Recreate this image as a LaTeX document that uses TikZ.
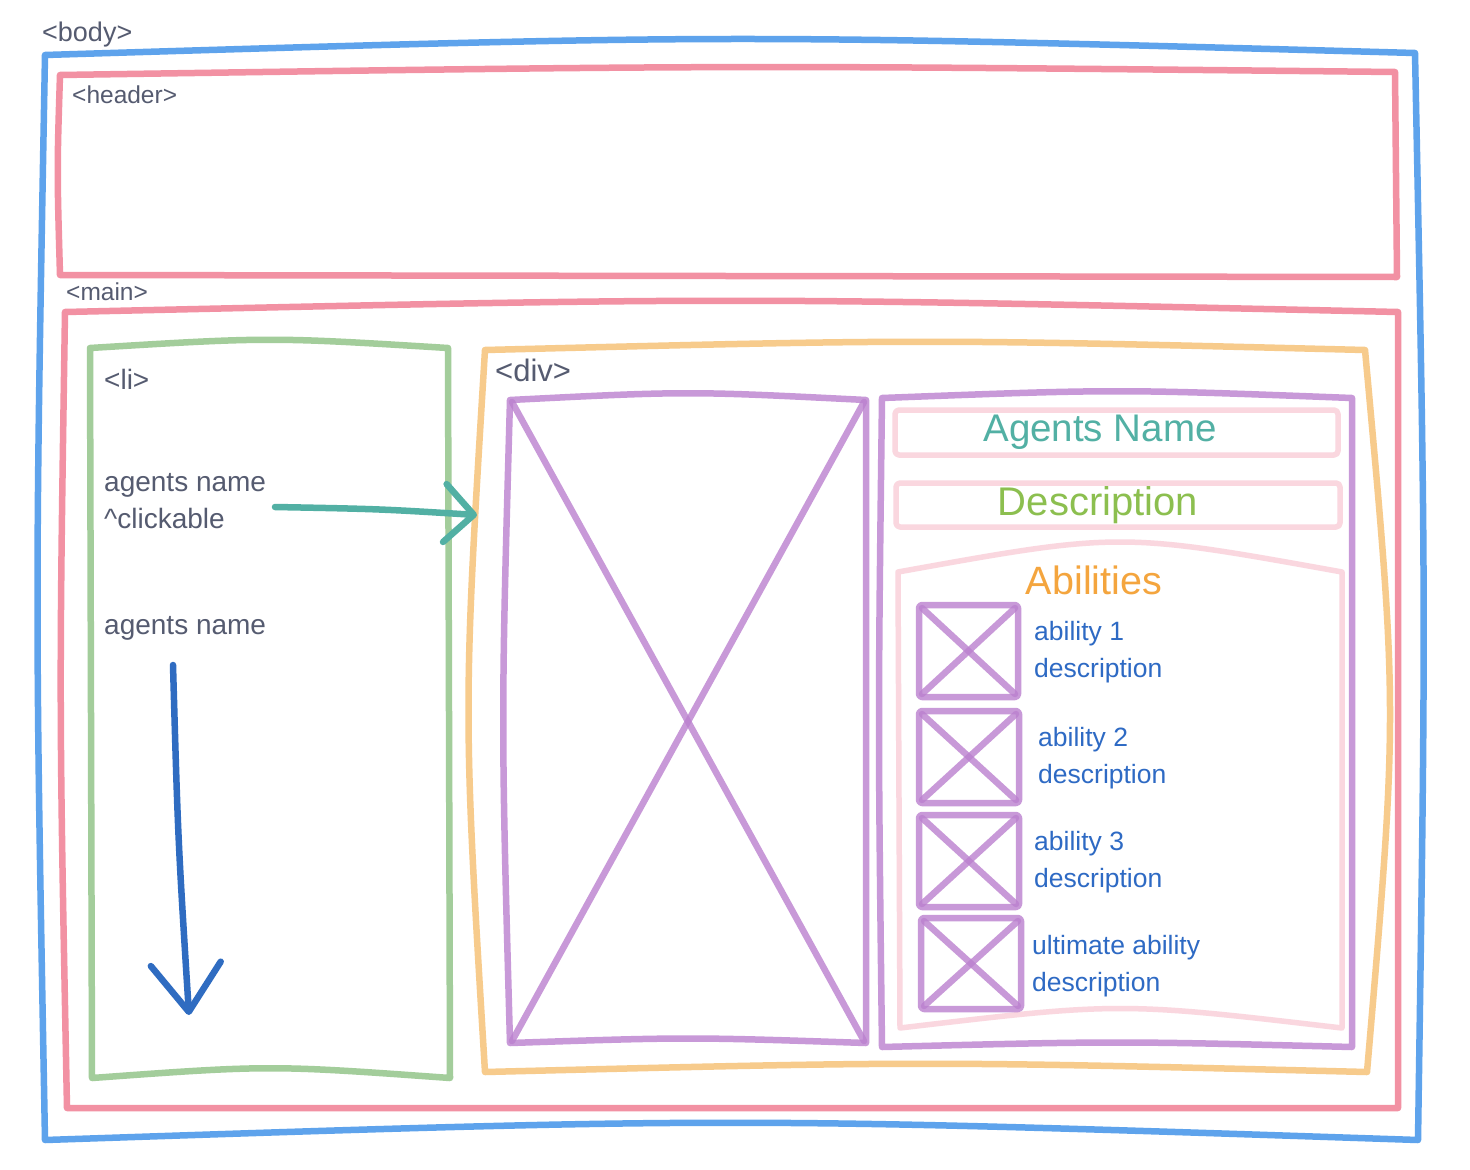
\documentclass[tikz,border=0pt]{standalone}
\usepackage{fontspec}
\setmainfont{Liberation Sans}
\usetikzlibrary{arrows.meta}
\definecolor{cbody}{HTML}{5EA3EC}
\definecolor{cpink}{HTML}{F291A3}
\definecolor{cgreen}{HTML}{A3CD9B}
\definecolor{corange}{HTML}{F7CB8C}
\definecolor{cpurple}{HTML}{BB80CF}
\definecolor{clpink}{HTML}{FAD7DF}
\definecolor{cteal}{HTML}{52B0A4}
\definecolor{cgrey}{HTML}{555B70}
\definecolor{cbluetext}{HTML}{2E6AC4}
\definecolor{cdesc}{HTML}{8CBF4F}
\definecolor{cabil}{HTML}{F4A53E}
\definecolor{cbluearrow}{HTML}{2F6CC1}
\newcommand{\fs}[1]{\fontsize{#1}{#1}\selectfont}
\begin{document}
\begin{tikzpicture}[x=1pt,y=-1pt,
  sk/.style={line width=6.5pt,line join=round,line cap=round},
  bodyline/.style={sk,draw=cbody},
  pinkline/.style={sk,draw=cpink},
  greenline/.style={sk,draw=cgreen},
  orangeline/.style={sk,draw=corange},
  purpleline/.style={sk,draw=cpurple,draw opacity=0.8},
  lpinkline/.style={sk,line width=5.5pt,draw=clpink,rounded corners=4pt},
  lbl/.style={inner sep=0pt,anchor=base west,text=cgrey},
  abil/.style={inner sep=0pt,anchor=base west,text=cbluetext,font=\fs{26.5}},
  head/.style={inner sep=0pt,anchor=base},
]
\useasboundingbox (0,0) rectangle (1470,1170);
\fill[white] (0,0) rectangle (1470,1170);

% body
\draw[bodyline] (45,55) .. controls (730,34) .. (1415,53) .. controls (1426,600) .. (1418,1140)
  .. controls (730,1117) .. (45,1140) .. controls (35,600) .. cycle;
% header
\draw[pinkline] (60,75) .. controls (730,65) .. (1395,72) -- (1397,277) -- (60,275) .. controls (57,170) .. cycle;
% main
\draw[pinkline] (65,312) .. controls (730,297) .. (1398,312) -- (1398,1108) -- (67,1108) .. controls (59,700) .. cycle;
% li
\draw[greenline] (90,348) .. controls (270,337) .. (448,348) -- (450,1078) .. controls (270,1065) .. (92,1078) -- cycle;
% div
\draw[orangeline] (485,350) .. controls (925,339) .. (1365,350) .. controls (1398,710) .. (1367,1072)
  .. controls (925,1061) .. (485,1072) .. controls (463,710) .. cycle;
% big image
\draw[purpleline] (510,400) .. controls (688,391) .. (866,400) -- (866,1043) .. controls (688,1037) .. (510,1043) .. controls (501,720) .. cycle;
\draw[purpleline] (512,402) -- (864,1041);
\draw[purpleline] (864,402) -- (512,1041);
% right panel
\draw[purpleline] (882,398) .. controls (1117,389) .. (1352,398) -- (1352,1047) .. controls (1117,1041) .. (882,1047) .. controls (878,720) .. cycle;
% name / description boxes
\draw[lpinkline] (895,410) rectangle (1338,455);
\draw[lpinkline] (896,483) rectangle (1340,527);
% abilities box
\draw[sk,line width=5.5pt,draw=clpink] (898,572) .. controls (1120,532) .. (1342,572) -- (1342,1028) .. controls (1120,1002) .. (900,1028) -- cycle;
% ability squares
\foreach \xa/\ya/\xb/\yb in {919/605/1018/697, 919/711/1019/803, 919/815/1019/907, 921/918/1021/1009}{
  \draw[purpleline,rounded corners=3pt] (\xa,\ya) rectangle (\xb,\yb);
  \draw[purpleline] (\xa+3,\ya+3) -- (\xb-3,\yb-3);
  \draw[purpleline] (\xb-3,\ya+3) -- (\xa+3,\yb-3);
}

% labels
\node[lbl,font=\fs{27}] (tbody) at (42,41) {<body>};
\node[lbl,font=\fs{24.5}] (theader) at (72,103) {<header>};
\node[lbl,font=\fs{24.5}] (tmain) at (66,300) {<main>};
\node[lbl,font=\fs{28}] (tli) at (104,389) {<li>};
\node[lbl,font=\fs{31}] (tdiv) at (495,381) {<div>};
\node[lbl,font=\fs{28}] (tname1) at (104,491) {agents name};
\node[lbl,font=\fs{28}] (tclick) at (104,528) {\^{}clickable};
\node[lbl,font=\fs{28}] (tname2) at (104,634) {agents name};

\node[head,text=cteal,font=\fs{38.5}] (tagents) at (1100,441) {Agents Name};
\node[head,text=cdesc,font=\fs{40}] (tdescr) at (1098,515) {Description};
\node[head,text=cabil,font=\fs{39.5}] (tabil) at (1094,594) {Abilities};

\node[abil] (a1) at (1034,640) {ability 1};
\node[abil] (d1) at (1034,677) {description};
\node[abil] (a2) at (1038,746) {ability 2};
\node[abil] (d2) at (1038,783) {description};
\node[abil] (a3) at (1034,850) {ability 3};
\node[abil] (d3) at (1034,887) {description};
\node[abil] (a4) at (1032,954) {ultimate ability};
\node[abil] (d4) at (1032,991) {description};

% arrows
\coordinate (ta) at (275,507);
\coordinate (tb) at (477,515);
\draw[sk,draw=cteal,-{Straight Barb[length=29pt,width=58pt,round]}] (ta) .. controls (380,509) .. (tb);
\coordinate (ba) at (173,665);
\coordinate (bb) at (189,1015);
\draw[sk,draw=cbluearrow,-{Straight Barb[length=48pt,width=70pt,round]}] (ba) .. controls (178,840) .. (bb);
\end{tikzpicture}
\end{document}
